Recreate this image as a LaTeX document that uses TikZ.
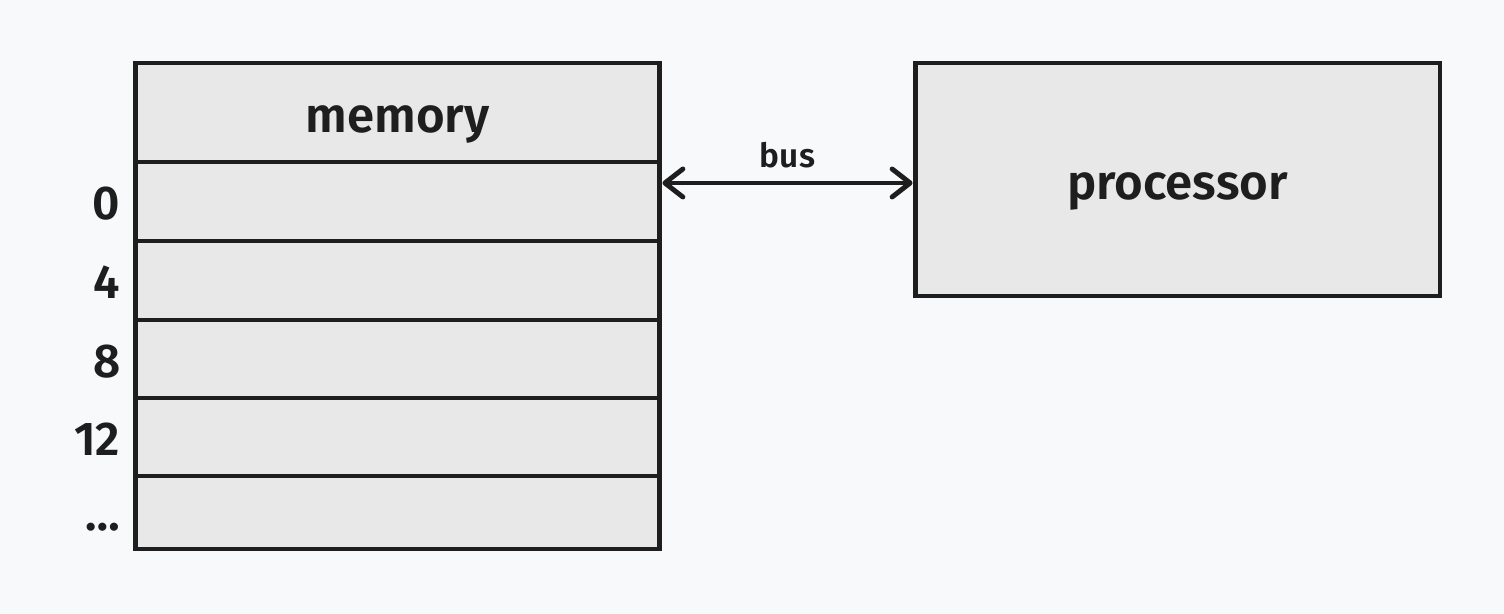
\documentclass[tikz,border=0pt]{standalone}
\usepackage{fontspec}
\setmainfont{Fira Sans}[BoldFont={Fira Sans SemiBold}]
\usepackage{xcolor}
\definecolor{bgcol}{RGB}{248,249,251}
\definecolor{cellfill}{RGB}{232,232,232}
\definecolor{inkcol}{RGB}{30,30,30}
\usetikzlibrary{arrows.meta, positioning}

\tikzset{
  membox/.style={draw=inkcol, fill=cellfill, line width=2.8pt, minimum width=10.5cm,
    inner sep=0pt, text height=23pt, text depth=0pt,
    font=\fontsize{28}{32}\selectfont\bfseries, text=inkcol},
  addrlabel/.style={font=\fontsize{27}{30}\selectfont\bfseries, text=inkcol,
    text height=20.5pt, text depth=0pt, inner sep=0pt},
  busarrow/.style={line width=2.8pt, draw=inkcol,
    {Straight Barb[length=3.6mm, width=5.6mm, round]}-{Straight Barb[length=3.6mm, width=5.6mm, round]}}
}

\begin{document}
\begin{tikzpicture}[x=0.02cm, y=-0.02cm]
  % background and page size
  \fill[bgcol] (0,0) rectangle (1504,614);
  \useasboundingbox (0,0) rectangle (1504,614);

  % memory header
  \node[membox, minimum height=1.98cm] (mem) at (397.5,112.5) {memory};

  % memory cells with addresses
  \foreach \lab/\yc/\h [count=\i] in {0/201.5/1.58, 4/280.5/1.58, 8/359/1.56, 12/437/1.56, \ldots/512.5/1.46} {
    \node[membox, minimum height=\h cm] (cell\i) at (397.5,\yc) {};
    \node[addrlabel, left=0.24cm of cell\i] (addr\i) {\lab};
  }

  % processor
  \node[membox, minimum height=4.66cm] (proc) at (1177.5,179.5) {processor};

  % bus
  \coordinate (busy) at (0,183);
  \draw[busarrow] (cell1.east |- busy) -- node[above=4pt, font=\fontsize{19}{22}\selectfont\bfseries, text=inkcol] (buslabel) {bus} (proc.west |- busy);
\end{tikzpicture}
\end{document}
